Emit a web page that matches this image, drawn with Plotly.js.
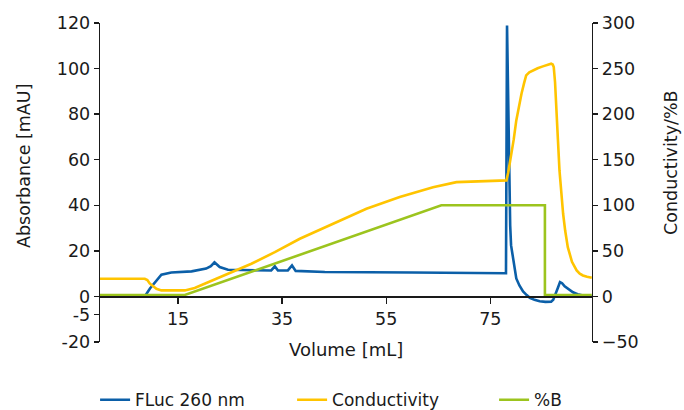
<!DOCTYPE html>
<html>
<head>
<meta charset="utf-8">
<script src="https://cdn.plot.ly/plotly-3.0.1.min.js"></script>
<style>html,body{margin:0;padding:0;background:#fff;}#chart{width:684px;height:410px;}</style>
</head>
<body>
<div id="chart"></div>
<script>
// FLuc 260 nm absorbance (mAU), left axis
const volFluc = [0, 8.6, 9.6, 10.8, 11.8, 13.7, 17.6, 20.4, 21.3, 22.0, 23.0, 24.6, 29.7, 32.0, 32.9, 33.6, 34.2, 36.1, 36.9, 37.6, 43.2, 60.0, 77.8, 78.02, 78.22, 78.45, 78.64, 78.83, 79.0, 79.4, 79.7, 80.0, 80.6, 81.3, 82.0, 82.6, 83.5, 84.5, 85.6, 86.7, 87.1, 87.5, 88.0, 88.4, 88.8, 89.3, 90.1, 90.9, 91.8, 92.8, 94.5];
const absFluc = [0, 0, 3.5, 7.0, 9.5, 10.5, 11.0, 12.2, 13.3, 15.0, 12.9, 11.7, 11.7, 11.5, 11.4, 13.2, 11.4, 11.4, 13.6, 11.2, 10.7, 10.5, 10.2, 10.2, 118.9, 77, 51, 31, 22.4, 15.8, 11.0, 7.9, 4.8, 2.2, 0.6, -0.6, -1.5, -2.1, -2.4, -2.3, -1.5, 0.5, 3.8, 6.3, 5.8, 4.4, 2.9, 1.8, 1.0, 0.4, 0];

// Conductivity, right axis
const volCond = [0, 8.6, 9.1, 9.55, 10.84, 11.8, 16.3, 18.2, 20.1, 24.6, 29.1, 33.6, 38.4, 44.8, 51.2, 57.6, 64.0, 68.5, 78.1, 78.45, 78.8, 79.1, 79.5, 80.0, 80.5, 81.0, 81.5, 81.9, 82.5, 83.2, 84.1, 85.1, 86.0, 86.7, 87.0, 87.2, 87.45, 87.7, 88.0, 88.3, 88.65, 89.0, 89.4, 89.9, 90.7, 91.6, 92.2, 92.8, 93.6, 94.5];
const condVals = [19.4, 19.4, 18.0, 14.3, 8.4, 6.6, 6.6, 9.3, 13.9, 24.9, 35.9, 48.6, 63.3, 79.8, 96.2, 109.0, 119.9, 125.4, 127.3, 136, 147, 156.6, 172, 193.1, 209, 222.4, 234, 242.5, 246, 248.0, 250.4, 252.4, 254, 255.3, 254.5, 251.6, 235, 211.4, 172, 138.2, 110, 90.7, 72, 54.1, 38, 28.5, 25, 23.0, 21.5, 20.5];

// %B, right axis
const volB = [0, 16.3, 65.6, 85.5, 85.5, 94.5];
const pctB = [1.5, 1.5, 100, 100, 1.5, 1.5];

const seriesNames = ['FLuc 260 nm', 'Conductivity', '%B'];
const xTicks = [15, 35, 55, 75];
const yLeftTickVals = [-20, -8, 0, 20, 40, 60, 80, 100, 120];
const yLeftTickText = ['-20', '-5', '0', '20', '40', '60', '80', '100', '120'];
const yRightTicks = [-50, 0, 50, 100, 150, 200, 250, 300];

const FONT = 'DejaVu Sans, Verdana, sans-serif';
const INK = '#1a1a1a';

const traces = [
  {x: volFluc, y: absFluc, name: seriesNames[0], type: 'scatter', mode: 'lines',
   line: {color: '#0b5fa8', width: 2.6}, yaxis: 'y', legendwidth: 152},
  {x: volCond, y: condVals, name: seriesNames[1], type: 'scatter', mode: 'lines',
   line: {color: '#ffc400', width: 2.6}, yaxis: 'y2', legendwidth: 157},
  {x: volB, y: pctB, name: seriesNames[2], type: 'scatter', mode: 'lines',
   line: {color: '#9cc41e', width: 2.6}, yaxis: 'y2', legendwidth: 40}
];

const axisCommon = {
  showline: true, linecolor: INK, linewidth: 1.3,
  ticks: 'outside', ticklen: 5, tickwidth: 1.3, tickcolor: INK,
  showgrid: false, zeroline: false,
  tickfont: {family: FONT, size: 17.5, color: INK}
};

const layout = {
  width: 684, height: 410,
  margin: {l: 100, r: 92, t: 23, b: 68, autoexpand: false},
  paper_bgcolor: '#fff', plot_bgcolor: '#fff',
  font: {family: FONT, color: INK},
  showlegend: true,
  legend: {orientation: 'h', x: -0.01, xanchor: 'left', y: -0.126, yanchor: 'top',
           font: {family: FONT, size: 17, color: INK}, itemwidth: 30},
  xaxis: Object.assign({}, axisCommon, {
    range: [0, 94.55], tickmode: 'array', tickvals: xTicks,
    anchor: 'free', position: 20 / 140, ticklen: 6
  }),
  yaxis: Object.assign({}, axisCommon, {
    range: [-20, 120], tickmode: 'array', tickvals: yLeftTickVals, ticktext: yLeftTickText
  }),
  yaxis2: Object.assign({}, axisCommon, {
    range: [-50, 300], tickmode: 'array', tickvals: yRightTicks,
    overlaying: 'y', side: 'right', anchor: 'x'
  }),
  annotations: [
    {text: 'Volume [mL]', xref: 'paper', yref: 'paper', x: 0.5, y: -8 / 319,
     xanchor: 'center', yanchor: 'middle', showarrow: false,
     font: {family: FONT, size: 18, color: INK}},
    {text: 'Absorbance [mAU]', xref: 'paper', yref: 'paper', x: -76 / 492, y: (342 - 166) / 319,
     xanchor: 'center', yanchor: 'middle', textangle: -90, showarrow: false,
     font: {family: FONT, size: 17.5, color: INK}},
    {text: 'Conductivity/%B', xref: 'paper', yref: 'paper', x: 1 + 79 / 492, y: (342 - 163) / 319,
     xanchor: 'center', yanchor: 'middle', textangle: -90, showarrow: false,
     font: {family: FONT, size: 17.5, color: INK}}
  ]
};

Plotly.newPlot('chart', traces, layout, {displayModeBar: false, staticPlot: true});
</script>
</body>
</html>
